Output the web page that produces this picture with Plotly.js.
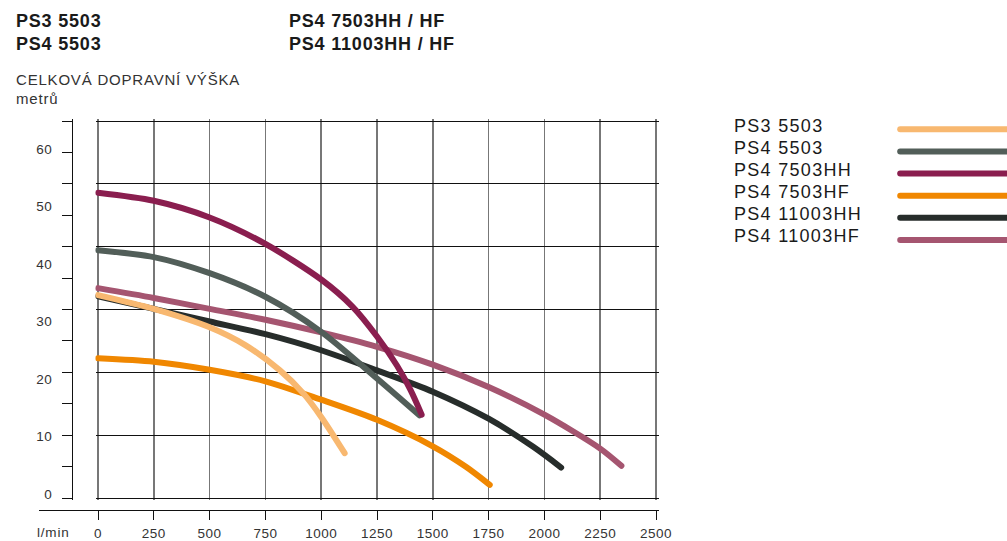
<!DOCTYPE html>
<html>
<head>
<meta charset="utf-8">
<script src="https://cdn.plot.ly/plotly-3.0.1.min.js"></script>
<style>
  html, body { margin: 0; padding: 0; background: #fff; }
  #chart { width: 1007px; height: 541px; }
  .annotation-text { letter-spacing: 0.8px; }
  .x2tick text, .ytick text { letter-spacing: 0.5px; }
  .y3tick text { letter-spacing: 1.3px; }
  .js-line { stroke-linecap: round !important; }
</style>
</head>
<body>
<div id="chart"></div>
<script>
// ---- data (flow l/min, head m) ----
const seriesNames = ["PS3 5503", "PS4 5503", "PS4 7503HH", "PS4 7503HF", "PS4 11003HH", "PS4 11003HF"];
const seriesColors = ["#F8B870", "#525E59", "#8A1E4F", "#F08700", "#272D2B", "#A55570"];

const ps3_5503_x = [0, 250, 500, 660, 815, 920, 1000, 1105];
const ps3_5503_y = [34.6, 32.2, 29.0, 25.9, 21.5, 17.5, 13.4, 7.1];

const ps4_5503_x = [0, 250, 500, 750, 1000, 1250, 1440];
const ps4_5503_y = [42.4, 41.2, 38.4, 34.3, 28.2, 20.1, 13.7];

const ps4_7503hh_x = [0, 250, 500, 750, 1000, 1140, 1250, 1340, 1400, 1450];
const ps4_7503hh_y = [52.4, 51.0, 48.1, 43.5, 37.3, 32.6, 27.4, 22.3, 18.1, 13.8];

const ps4_7503hf_x = [0, 250, 500, 750, 1000, 1250, 1500, 1650, 1755];
const ps4_7503hf_y = [23.6, 23.0, 21.6, 19.6, 16.4, 12.9, 8.3, 4.7, 1.6];

const ps4_11003hh_x = [0, 250, 500, 750, 1000, 1250, 1500, 1750, 1950, 2075];
const ps4_11003hh_y = [34.4, 32.2, 30.0, 27.8, 25.0, 21.5, 17.8, 13.1, 8.2, 4.6];

const ps4_11003hf_x = [0, 250, 500, 750, 1000, 1250, 1500, 1750, 2000, 2250, 2345];
const ps4_11003hf_y = [35.8, 34.1, 32.2, 30.3, 28.1, 25.6, 22.5, 18.6, 13.8, 7.9, 4.9];

const xTicks = [0, 250, 500, 750, 1000, 1250, 1500, 1750, 2000, 2250, 2500];
const yLabelTicks = [0, 10, 20, 30, 40, 50, 60];
const yGridTicks = [0, 10, 20, 30, 40, 50, 60];

const headerLeft = ["PS3 5503", "PS4 5503"];
const headerRight = ["PS4 7503HH / HF", "PS4 11003HH / HF"];
const yTitle = ["CELKOVÁ DOPRAVNÍ VÝŠKA", "metrů"];
const xUnit = "l/min";

// ---- build ----
const allX = [ps3_5503_x, ps4_5503_x, ps4_7503hh_x, ps4_7503hf_x, ps4_11003hh_x, ps4_11003hf_x];
const allY = [ps3_5503_y, ps4_5503_y, ps4_7503hh_y, ps4_7503hf_y, ps4_11003hh_y, ps4_11003hf_y];
const drawOrder = [4, 5, 3, 0, 1, 2];

const traces = [];
// empty helper traces so the decoration axes (scale ticks / grid) get drawn
traces.push({ type: 'scatter', mode: 'lines', x: [], y: [], xaxis: 'x', yaxis: 'y2', hoverinfo: 'skip', showlegend: false });
traces.push({ type: 'scatter', mode: 'lines', x: [], y: [], xaxis: 'x2', yaxis: 'y', hoverinfo: 'skip', showlegend: false });

drawOrder.forEach(i => {
  traces.push({
    type: 'scatter', mode: 'lines', name: seriesNames[i],
    x: allX[i], y: allY[i], xaxis: 'x', yaxis: 'y',
    line: { color: seriesColors[i], width: 6, shape: 'spline', smoothing: 0.8 },
    hoverinfo: 'skip', showlegend: false
  });
});
// legend key lines (custom legend at right)
seriesNames.forEach((n, i) => {
  traces.push({
    type: 'scatter', mode: 'lines', name: n,
    x: [0, 1], y: [i, i], xaxis: 'x3', yaxis: 'y3',
    line: { color: seriesColors[i], width: 6 },
    hoverinfo: 'skip', showlegend: false
  });
});

const W = 1007, H = 541, ML = 30, MR = 0, MT = 119, MB = 31;
const PW = W - ML - MR, PH = H - MT - MB;
const px2x = p => (p - ML) / PW;
const px2y = p => (H - MB - p) / PH;

// pixel geometry of the reference
const X0 = 98, X1 = 656;               // flow 0 .. 2500
const XPAD = 2.5;                      // small pad so the edge grid lines are kept
const pxPerFlow = (X1 - X0) / 2500;
const plotTop = 119, plotBot = 500;    // y domain (pad so edge grid lines show)
const gridTop = 121, gridBot = 498;    // grid 60 .. 0
const labZero = 494, labPx = 5.75;     // labelled scale

const tickFont = { family: 'Liberation Sans, Arial, sans-serif', size: 13.5, color: '#333' };
const annFont = (size, bold) => ({ family: 'Liberation Sans, Arial, sans-serif', size: size, color: '#1a1a1a', weight: bold ? 700 : 400 });

const annotations = [];
headerLeft.forEach((t, i) => annotations.push({ text: t, xref: 'paper', yref: 'paper', x: px2x(14), y: px2y(21 + i * 23), xanchor: 'left', yanchor: 'middle', showarrow: false, font: annFont(18, true) }));
headerRight.forEach((t, i) => annotations.push({ text: t, xref: 'paper', yref: 'paper', x: px2x(287), y: px2y(21 + i * 23), xanchor: 'left', yanchor: 'middle', showarrow: false, font: annFont(18, true) }));
yTitle.forEach((t, i) => annotations.push({ text: t, xref: 'paper', yref: 'paper', x: px2x(14), y: px2y(80 + i * 18), xanchor: 'left', yanchor: 'middle', showarrow: false, font: { family: 'Liberation Sans, Arial, sans-serif', size: 15, color: '#333' } }));
annotations.push({ text: xUnit, xref: 'paper', yref: 'paper', x: px2x(53), y: px2y(532.5), xanchor: 'center', yanchor: 'middle', showarrow: false, font: tickFont });

const gPx = (gridBot - gridTop) / 60;

const layout = {
  width: W, height: H,
  margin: { l: ML, r: MR, t: MT, b: MB, pad: 0 },
  paper_bgcolor: '#fff', plot_bgcolor: 'rgba(0,0,0,0)',
  showlegend: false,
  xaxis: {
    domain: [px2x(X0 - XPAD), px2x(X1 + XPAD)], range: [-XPAD / pxPerFlow, 2500 + XPAD / pxPerFlow], anchor: 'y',
    tickvals: xTicks, showticklabels: false, ticks: '',
    showgrid: true, gridcolor: '#777', gridwidth: 1.5,
    zeroline: false, showline: false, fixedrange: true
  },
  xaxis2: {
    domain: [px2x(39), px2x(X1 + XPAD)], range: [-(X0 - 39) / pxPerFlow, 2500 + XPAD / pxPerFlow],
    anchor: 'free', position: 0,
    tickvals: xTicks, ticks: 'outside', ticklen: 9, tickcolor: '#111', tickwidth: 1,
    ticklabelstandoff: 2,
    showline: true, linecolor: '#111', linewidth: 1,
    showgrid: false, zeroline: false, tickfont: tickFont, fixedrange: true
  },
  yaxis: {
    domain: [px2y(plotBot), 1], range: [(labZero - plotBot) / labPx, (labZero - plotTop) / labPx],
    anchor: 'free', position: px2x(72),
    tickvals: yLabelTicks, ticks: 'outside', ticklen: 17, tickcolor: 'rgba(0,0,0,0)',
    showline: true, linecolor: '#111', linewidth: 1,
    showgrid: false, zeroline: false, tickfont: tickFont, fixedrange: true
  },
  yaxis2: {
    overlaying: 'y', range: [-(plotBot - gridBot) / gPx, 60 + (gridTop - plotTop) / gPx],
    anchor: 'free', position: px2x(72),
    tickvals: yGridTicks, ticks: 'outside', ticklen: 10, tickcolor: '#111', tickwidth: 1,
    showticklabels: false, showline: false,
    showgrid: true, gridcolor: '#111', gridwidth: 1,
    minor: { dtick: 5, tick0: 0, ticks: 'outside', ticklen: 10, tickcolor: '#111', showgrid: false },
    zeroline: false, fixedrange: true
  },
  xaxis3: {
    domain: [px2x(897), 1], range: [-0.03, 1], anchor: 'y3',
    visible: false, fixedrange: true
  },
  yaxis3: {
    domain: [px2y(251), 1], range: [(251 - 129.3) / 22.14, -(129.3 - plotTop) / 22.14],
    anchor: 'free', position: px2x(733), side: 'right',
    tickvals: seriesNames.map((n, i) => i), ticktext: seriesNames,
    ticks: '', showline: false, showgrid: false, zeroline: false,
    ticklabelshift: 4,
    tickfont: { family: 'Liberation Sans, Arial, sans-serif', size: 18, color: '#1a1a1a' },
    fixedrange: true
  },
  annotations: annotations
};

Plotly.newPlot('chart', traces, layout, { staticPlot: true, displayModeBar: false });
</script>
</body>
</html>
